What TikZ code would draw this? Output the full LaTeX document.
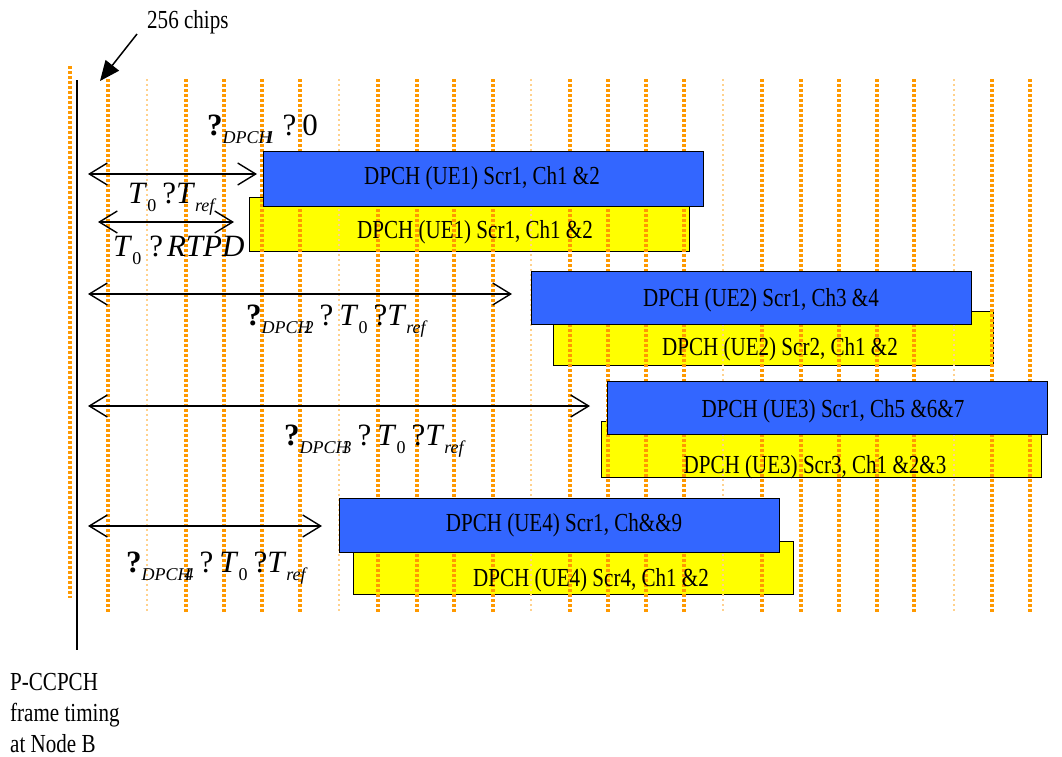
\documentclass[tikz,border=0pt]{standalone}
\usepackage{fontspec}
\setmainfont{Liberation Serif}
\newfontfamily\narrowserif{Liberation Serif}[FakeStretch=0.81]
\usepackage{tikz}
\usetikzlibrary{arrows.meta}

\definecolor{chiporange}{RGB}{255,153,0}
\definecolor{burstblue}{RGB}{51,102,255}
\definecolor{burstyellow}{RGB}{255,255,0}

\newcommand{\lowsub}[1]{\raisebox{-8pt}{\fontsize{18}{18}\selectfont #1}}
\newcommand{\tauq}{{\bfseries ?}}
\newcommand{\offsetlabel}[1]{\tauq\lowsub{\itshape DPCH\kern-6pt #1}\hspace{6pt}?\hspace{6pt}\textit{T}\lowsub{0}\hspace{6pt}?\textit{T}\lowsub{\itshape ref}}

\begin{document}
\begin{tikzpicture}[x=1pt, y=-1pt, every node/.style={inner sep=0pt},
  chipline/.style={chiporange, line width=3.3pt, dash pattern=on 3.3pt off 1.7pt},
  fadeline/.style={chiporange!45, line width=2pt, dash pattern=on 1.6pt off 3.4pt},
  burst/.style={draw=black, line width=1.4pt, minimum width=440pt,
                minimum height=54pt, anchor=north west},
  bluebox/.style={burst, fill=burstblue},
  yellowbox/.style={burst, fill=burstyellow},
  boxtext/.style={font=\narrowserif\fontsize{26}{26}\selectfont},
  mathlabel/.style={font=\fontsize{31}{31}\selectfont, anchor=base west},
  span/.style={{Straight Barb[length=18pt,width=22pt]}-{Straight Barb[length=18pt,width=22pt]},
               line width=1.4pt}]
  \useasboundingbox (0,0) rectangle (1062,756);

  % yellow bursts sit under the chip grid
  \node[yellowbox] (ue1yel) at (249,197) {};
  \node[yellowbox] (ue2yel) at (553,311) {};
  \node[yellowbox, minimum height=56pt] (ue3yel) at (601,421) {};
  \node[yellowbox, minimum height=53pt] (ue4yel) at (353,541) {};

  % 256-chip grid
  \draw[chipline] (70,66) -- (70,598);
  \foreach \gx in {108,186,224,262,300,378,417,454,493,570,608,646,684,
                   762,801,839,877,914,992,1030}
    \draw[chipline] (\gx,79) -- (\gx,612);
  \foreach \gx in {147,339,531,723,954}
    \draw[fadeline] (\gx,79) -- (\gx,612);

  % blue bursts on top
  \node[bluebox, minimum height=55pt] (ue1blu) at (263,151) {};
  \node[bluebox, minimum height=53pt] (ue2blu) at (531,271) {};
  \node[bluebox, minimum height=53pt] (ue3blu) at (607,381) {};
  \node[bluebox] (ue4blu) at (339,498) {};

  \node[boxtext] (ue1blutxt) at (482,178) {DPCH (UE1) Scr1, Ch1 \&2};
  \node[boxtext] (ue1yeltxt) at (475,232) {DPCH (UE1) Scr1, Ch1 \&2};
  \node[boxtext] (ue2blutxt) at (761,300) {DPCH (UE2) Scr1, Ch3 \&4};
  \node[boxtext] (ue2yeltxt) at (780,349) {DPCH (UE2) Scr2, Ch1 \&2};
  \node[boxtext] (ue3blutxt) at (833,411) {DPCH (UE3) Scr1, Ch5 \&6\&7};
  \node[boxtext] (ue3yeltxt) at (815,467) {DPCH (UE3) Scr3, Ch1 \&2\&3};
  \node[boxtext] (ue4blutxt) at (564,525) {DPCH (UE4) Scr1, Ch\&\&9};
  \node[boxtext] (ue4yeltxt) at (591,580) {DPCH (UE4) Scr4, Ch1 \&2};

  % frame reference and chip marker
  \coordinate (frametop) at (77,80);
  \coordinate (framebot) at (77,650);
  \draw[line width=1.5pt] (frametop) -- (framebot);
  \node[boxtext, anchor=base west] (chips) at (147,28) {256 chips};
  \coordinate (chiptail) at (137,34);
  \coordinate (chiptip) at (100,81);
  \draw[-{Triangle[length=20pt,width=17pt]}, line width=1.5pt] (chiptail) -- (chiptip);
  \node[font=\narrowserif\fontsize{26}{31}\selectfont, align=left, anchor=base west]
    (pccpch) at (10,752) {P-CCPCH\\frame timing\\at Node B};

  % offsets
  \coordinate (sp1a) at (88,174);  \coordinate (sp1b) at (257,174);
  \coordinate (sp2a) at (98,222);  \coordinate (sp2b) at (234,222);
  \coordinate (sp3a) at (88,294);  \coordinate (sp3b) at (512,294);
  \coordinate (sp4a) at (88,406);  \coordinate (sp4b) at (590,406);
  \coordinate (sp5a) at (88,526);  \coordinate (sp5b) at (322,526);
  \draw[span] (sp1a) -- (sp1b);
  \draw[span] (sp2a) -- (sp2b);
  \draw[span] (sp3a) -- (sp3b);
  \draw[span] (sp4a) -- (sp4b);
  \draw[span] (sp5a) -- (sp5b);

  \node[mathlabel] (tau1) at (207,135)
    {\tauq\lowsub{\itshape DPCH\kern-6pt 1}\hspace{8pt}?\hspace{6pt}0};
  \node[mathlabel] (tref) at (128,203) {\textit{T}\lowsub{0}\hspace{6pt}?\textit{T}\lowsub{\itshape ref}};
  \node[mathlabel] (rtpd) at (113,256) {\textit{T}\lowsub{0}\hspace{8pt}?\hspace{4pt}\textit{RTPD}};
  \node[mathlabel] (tau2) at (246,325) {\offsetlabel{2}};
  \node[mathlabel] (tau3) at (284,445) {\offsetlabel{3}};
  \node[mathlabel] (tau4) at (126,572) {\offsetlabel{4}};
\end{tikzpicture}
\end{document}
